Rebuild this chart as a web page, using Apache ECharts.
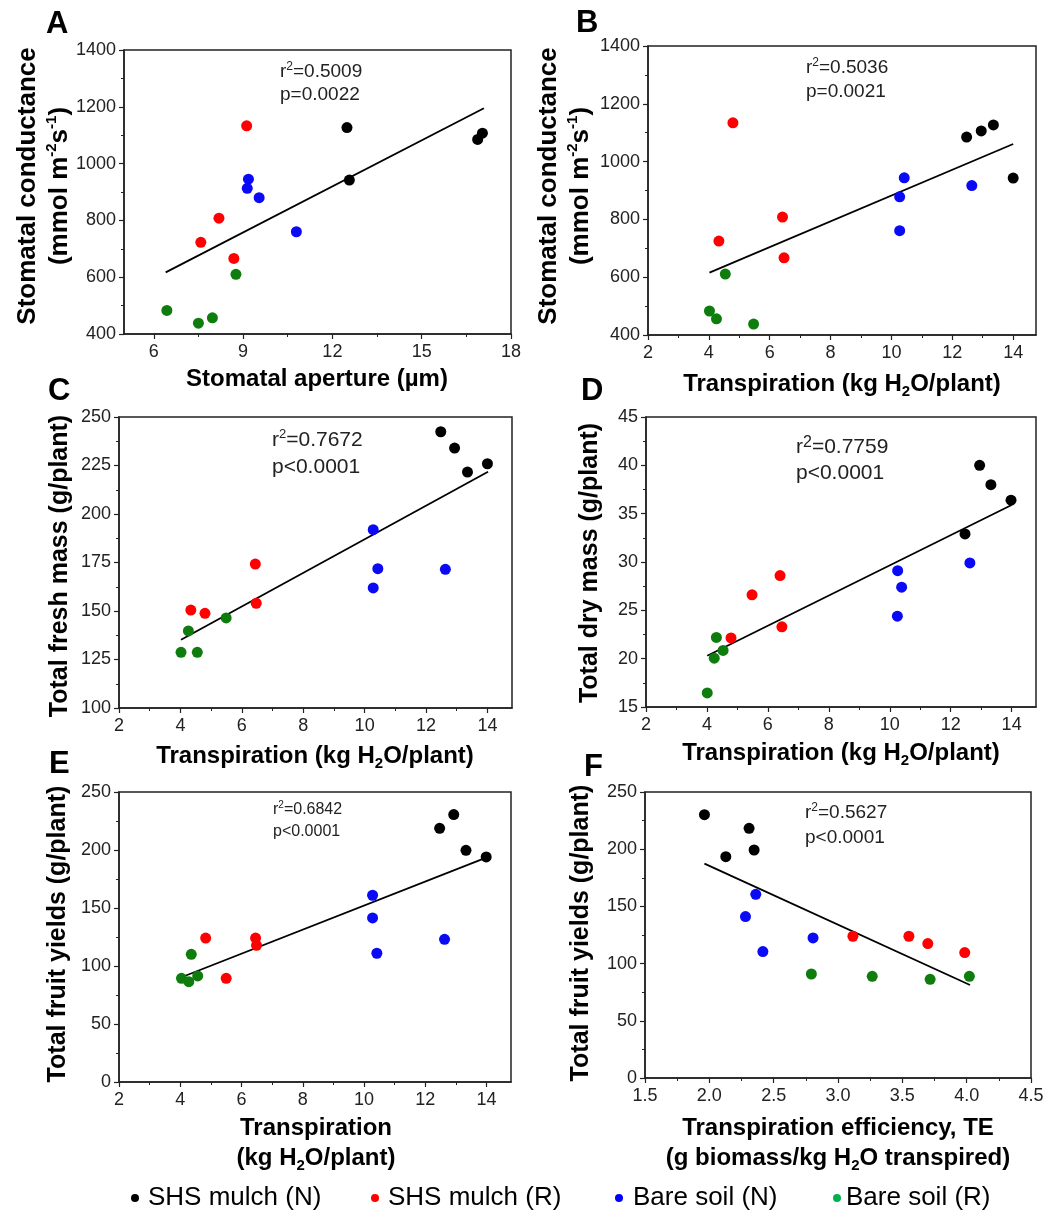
<!DOCTYPE html>
<html><head><meta charset="utf-8">
<script src="https://cdn.jsdelivr.net/npm/echarts@6/dist/echarts.min.js"></script>
<style>html,body{margin:0;padding:0;background:#fff}#c{width:1048px;height:1215px}</style>
</head><body><div id="c"></div>
<script>
// ---------- DATA ----------
const groupNames = ['SHS mulch (N)', 'SHS mulch (R)', 'Bare soil (N)', 'Bare soil (R)'];

// Panel A: stomatal aperture (µm) vs stomatal conductance
const A_shsN  = [[12.49,1127],[12.57,942],[16.88,1085],[17.04,1107]];
const A_shsR  = [[9.12,1133],[8.19,808],[7.58,723],[8.69,666]];
const A_bareN = [[9.18,945],[9.14,913],[9.54,880],[10.79,760]];
const A_bareR = [[8.76,610],[6.44,483],[7.50,438],[7.97,457]];
const A_fit   = [[6.40,617],[17.09,1195]];

// Panel B: transpiration vs stomatal conductance
const B_shsN  = [[12.47,1085],[12.95,1106],[13.35,1127],[14.0,943]];
const B_shsR  = [[4.79,1134],[4.33,725],[6.42,808],[6.47,667]];
const B_bareN = [[10.42,944],[10.27,878],[10.27,761],[12.64,917]];
const B_bareR = [[4.54,611],[4.02,483],[4.25,456],[5.47,438]];
const B_fit   = [[4.02,616],[14.0,1061]];

// Panel C: transpiration vs total fresh mass
const C_shsN  = [[12.48,242.4],[12.93,234],[13.35,221.6],[14.0,225.9]];
const C_shsR  = [[6.44,174.2],[6.47,154],[4.34,150.5],[4.80,148.8]];
const C_bareN = [[10.28,191.9],[10.43,171.8],[10.28,161.9],[12.63,171.5]];
const C_bareR = [[5.49,146.4],[4.26,139.7],[4.02,128.7],[4.55,128.7]];
const C_fit   = [[4.02,135.2],[14.02,221.8]];

// Panel D: transpiration vs total dry mass
const D_shsN  = [[12.95,40.0],[13.32,38.0],[13.98,36.4],[12.47,32.9]];
const D_shsR  = [[6.40,28.6],[5.48,26.6],[6.46,23.3],[4.79,22.15]];
const D_bareN = [[12.63,29.9],[10.26,29.1],[10.39,27.4],[10.25,24.4]];
const D_bareR = [[4.31,22.2],[4.53,20.85],[4.24,20.05],[4.01,16.45]];
const D_fit   = [[4.01,20.3],[14.0,35.9]];

// Panel E: transpiration vs total fruit yields
const E_shsN  = [[12.93,230.5],[12.47,218.7],[13.33,199.7],[13.99,194]];
const E_shsR  = [[4.83,124.1],[6.46,124.1],[6.49,117.8],[5.50,89.4]];
const E_bareN = [[10.28,161],[10.28,141.4],[12.63,123],[10.42,111]];
const E_bareR = [[4.36,110.1],[4.57,91.4],[4.04,89.4],[4.28,86.5]];
const E_fit   = [[4.04,90.3],[13.99,193.4]];

// Panel F: transpiration efficiency vs total fruit yields
const F_shsN  = [[1.962,230.2],[2.309,218.3],[2.348,199.3],[2.128,193.5]];
const F_shsR  = [[3.116,123.9],[3.551,123.9],[3.698,117.5],[3.985,109.6]];
const F_bareN = [[2.361,160.6],[2.281,141.1],[2.806,122.4],[2.416,110.5]];
const F_bareR = [[2.793,90.9],[3.266,88.9],[3.716,86.3],[4.021,88.9]];
const F_fit   = [[1.962,187.4],[4.026,81.3]];

// Tick values
const xTicksAperture = [6, 9, 12, 15, 18];
const xTicksTransp   = [2, 4, 6, 8, 10, 12, 14];
const xTicksTE       = [1.5, 2.0, 2.5, 3.0, 3.5, 4.0, 4.5];
const yTicksCond     = [400, 600, 800, 1000, 1200, 1400];
const yTicksFresh    = [100, 125, 150, 175, 200, 225, 250];
const yTicksDry      = [15, 20, 25, 30, 35, 40, 45];
const yTicksYield    = [0, 50, 100, 150, 200, 250];

// Statistics text
const rSquared = ['0.5009', '0.5036', '0.7672', '0.7759', '0.6842', '0.5627'];
const pValues  = ['p=0.0022', 'p=0.0021', 'p<0.0001', 'p<0.0001', 'p<0.0001', 'p<0.0001'];
const panelLetters = ['A', 'B', 'C', 'D', 'E', 'F'];

// ---------- STYLE / LAYOUT ----------
const FF = '"Liberation Sans", Arial, Helvetica, sans-serif';
const groupColors  = ['#000000', '#ff0000', '#0a0af5', '#0e7d0e'];
const legendColors = ['#000000', '#ff0000', '#0000ff', '#00b050'];

const panels = [
  {groups:[A_shsN,A_shsR,A_bareN,A_bareR], fit:A_fit, grid:{left:124,top:50,width:387,height:284},
   x:{min:5,max:18,step:3,ticks:xTicksAperture,dec:0}, y:{min:400,max:1400,step:200,ticks:yTicksCond}},
  {groups:[B_shsN,B_shsR,B_bareN,B_bareR], fit:B_fit, grid:{left:648,top:46,width:388,height:289},
   x:{min:2,max:14.75,step:2,ticks:xTicksTransp,dec:0}, y:{min:400,max:1400,step:200,ticks:yTicksCond}},
  {groups:[C_shsN,C_shsR,C_bareN,C_bareR], fit:C_fit, grid:{left:119,top:417,width:393,height:291},
   x:{min:2,max:14.8,step:2,ticks:xTicksTransp,dec:0}, y:{min:100,max:250,step:25,ticks:yTicksFresh}},
  {groups:[D_shsN,D_shsR,D_bareN,D_bareR], fit:D_fit, grid:{left:646,top:417,width:390,height:290},
   x:{min:2,max:14.8,step:2,ticks:xTicksTransp,dec:0}, y:{min:15,max:45,step:5,ticks:yTicksDry}},
  {groups:[E_shsN,E_shsR,E_bareN,E_bareR], fit:E_fit, grid:{left:119,top:792,width:392,height:290},
   x:{min:2,max:14.8,step:2,ticks:xTicksTransp,dec:0}, y:{min:0,max:250,step:50,ticks:yTicksYield}},
  {groups:[F_shsN,F_shsR,F_bareN,F_bareR], fit:F_fit, grid:{left:645,top:792,width:386,height:286},
   x:{min:1.5,max:4.5,step:0.5,ticks:xTicksTE,dec:1}, y:{min:0,max:250,step:50,ticks:yTicksYield}}
];

const axisColor = '#222';
function makeAxis(cfg, i, isX) {
  return {
    type: 'value', gridIndex: i, min: cfg.min, max: cfg.max,
    minInterval: cfg.step, maxInterval: cfg.step,
    splitLine: {show: false},
    axisLine: {show: true, onZero: false, lineStyle: {color: axisColor, width: 1.5}},
    axisTick: {show: true, length: 5, inside: false, customValues: cfg.ticks, lineStyle: {color: axisColor, width: 1.2}},
    minorTick: {show: true, splitNumber: 2, length: 3, lineStyle: {color: axisColor, width: 1}},
    axisLabel: {
      customValues: cfg.ticks, fontSize: 18, color: '#222', fontFamily: FF,
      margin: isX ? 9 : 8,
      formatter: v => (cfg.dec ? v.toFixed(cfg.dec) : String(Math.round(v)))
    }
  };
}

const grids = [], xAxes = [], yAxes = [], series = [];
panels.forEach((p, i) => {
  grids.push(Object.assign({show: true, borderColor: axisColor, borderWidth: 1.5, backgroundColor: 'transparent',
    containLabel: false, outerBoundsMode: 'none'}, p.grid));
  xAxes.push(makeAxis(p.x, i, true));
  yAxes.push(makeAxis(p.y, i, false));
  series.push({type: 'line', xAxisIndex: i, yAxisIndex: i, data: p.fit, symbol: 'none', silent: true,
    lineStyle: {color: '#000', width: 1.8}, z: 2});
  p.groups.forEach((g, k) => {
    series.push({type: 'scatter', name: groupNames[k], xAxisIndex: i, yAxisIndex: i, data: g,
      symbol: 'circle', symbolSize: 11, itemStyle: {color: groupColors[k], opacity: 1}, z: 3});
  });
});

// text graphics
const letterPos = [[46,24],[576,23],[48,391],[581,391],[49,764],[584,767]];
const yTitles = [
  {t:'Stomatal conductance\n(mmol m{sup|-2}s{sup|-1})', x:44, y:186, fs:26, lh:32},
  {t:'Stomatal conductance\n(mmol m{sup|-2}s{sup|-1})', x:565, y:186, fs:26, lh:32},
  {t:'Total fresh mass (g/plant)', x:60, y:566, fs:25, lh:30},
  {t:'Total dry mass (g/plant)', x:590, y:563, fs:25, lh:30},
  {t:'Total fruit yields (g/plant)', x:58, y:934, fs:25, lh:30},
  {t:'Total fruit yields (g/plant)', x:581, y:933, fs:25, lh:30}
];
const xTitles = [
  {t:'Stomatal aperture (µm)', x:317, y:379},
  {t:'Transpiration (kg H{sub|2}O/plant)', x:842, y:384},
  {t:'Transpiration (kg H{sub|2}O/plant)', x:315, y:756},
  {t:'Transpiration (kg H{sub|2}O/plant)', x:841, y:753},
  {t:'Transpiration\n(kg H{sub|2}O/plant)', x:316, y:1143},
  {t:'Transpiration efficiency, TE\n(g biomass/kg H{sub|2}O transpired)', x:838, y:1143}
];
const statPos = [
  {x:280, y1:72, y2:95, fs:19, sup:12},
  {x:806, y1:68, y2:92, fs:19, sup:12},
  {x:272, y1:440, y2:467, fs:21, sup:13},
  {x:796, y1:447, y2:473, fs:21, sup:16},
  {x:273, y1:810, y2:832, fs:16, sup:10},
  {x:805, y1:813, y2:838, fs:19, sup:12}
];

const graphic = [];
panelLetters.forEach((L, i) => {
  graphic.push({type:'text', x: letterPos[i][0], y: letterPos[i][1],
    style:{text:L, fontSize:31, fontWeight:'bold', fontFamily:FF, fill:'#000', align:'left', verticalAlign:'middle'}});
});
yTitles.forEach(o => {
  graphic.push({type:'text', x:o.x, y:o.y, rotation: Math.PI/2,
    style:{text:o.t, fontSize:o.fs, fontWeight:'bold', fontFamily:FF, fill:'#000', align:'center', verticalAlign:'middle',
      lineHeight:o.lh, rich:{sup:{fontSize:15, fontWeight:'bold', fontFamily:FF, fill:'#000', verticalAlign:'top'}}}});
});
xTitles.forEach(o => {
  graphic.push({type:'text', x:o.x, y:o.y,
    style:{text:o.t, fontSize:24, fontWeight:'bold', fontFamily:FF, fill:'#000', align:'center', verticalAlign:'middle',
      lineHeight:30, rich:{sub:{fontSize:15, fontWeight:'bold', fontFamily:FF, fill:'#000', verticalAlign:'bottom'}}}});
});
statPos.forEach((o, i) => {
  graphic.push({type:'text', x:o.x, y:o.y1,
    style:{text:'r{sup|2}=' + rSquared[i], fontSize:o.fs, fontFamily:FF, fill:'#222', align:'left', verticalAlign:'middle',
      lineHeight:o.fs + 4, rich:{sup:{fontSize:o.sup, fontFamily:FF, fill:'#222', verticalAlign:'top'}}}});
  graphic.push({type:'text', x:o.x, y:o.y2,
    style:{text:pValues[i], fontSize:o.fs, fontFamily:FF, fill:'#222', align:'left', verticalAlign:'middle'}});
});

const legendLeft = [131, 371, 615, 833];
const legendPad  = [4, 4, 5, 0];
const legends = groupNames.map((n, k) => ({
  data: [{name: n, itemStyle: {color: legendColors[k]}}],
  left: legendLeft[k], top: 1185, icon: 'circle', itemWidth: 8, itemHeight: 8, padding: 0,
  selectedMode: false,
  textStyle: {fontSize: 26, color: '#000', fontFamily: FF, padding: [0, 0, 0, legendPad[k]]}
}));

const chart = echarts.init(document.getElementById('c'), null, {renderer: 'canvas'});
chart.setOption({
  animation: false,
  backgroundColor: '#fff',
  textStyle: {fontFamily: FF},
  grid: grids, xAxis: xAxes, yAxis: yAxes, series: series,
  legend: legends, graphic: graphic
});
</script></body></html>
